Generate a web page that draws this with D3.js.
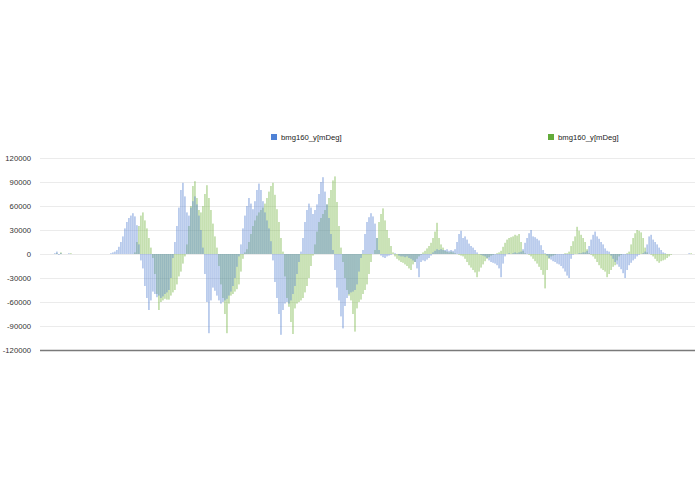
<!DOCTYPE html>
<html>
<head>
<meta charset="utf-8">
<title>bmg160_y</title>
<script src="https://cdn.jsdelivr.net/npm/d3@7"></script>
<style>
  body { margin: 0; background: #fff; }
  svg { display: block; }
  .tick-label { font: 7.7px "Liberation Sans", Arial, sans-serif; fill: #333; }
  .legend-label { font: 7.7px "Liberation Sans", Arial, sans-serif; fill: #222; }
</style>
</head>
<body>
<script>
// series values, thousands of mDeg, one per bar (left to right)
var blueSeries = [
  0,0,0,0,0,0,0,1,3,-1,
  1,0,0,0,1,0,0,0,0,0,
  0,0,0,0,0,0,0,0,0,0,
  0,0,0,0,0,1,2,3,5,9,
  15,22,32,40,45,48,51,47,36,12,
  -8,-18,-40,-55,-70,-58,-47,-50,-54,-52,
  -55,-53,-50,-48,-45,-30,-5,15,35,58,
  80,89,72,52,48,58,66,72,62,48,
  30,8,-25,-60,-99,-58,-42,-46,-52,-58,
  -62,-60,-58,-56,-52,-47,-40,-30,-16,-3,
  12,32,48,60,70,63,56,66,80,88,
  80,66,52,42,32,16,-8,-35,-55,-75,
  -101,-70,-62,-60,-62,-58,-50,-40,-25,-10,
  3,20,40,55,63,58,50,55,62,75,
  90,96,78,62,45,25,5,-20,-42,-58,
  -78,-93,-65,-55,-50,-48,-47,-45,-38,-22,
  -5,5,25,40,46,51,47,38,20,5,
  -2,-4,-5,-3,-2,-1,0,1,0,-2,
  -3,-3,-4,-3,-5,-6,-8,-10,-18,-29,
  -10,-8,-9,-7,-5,-2,2,4,6,5,
  6,5,5,6,4,5,4,6,15,25,
  29,20,22,18,13,10,8,5,2,0,
  -1,-2,-3,-5,-8,-10,-11,-12,-14,-18,
  -29,-12,-3,0,1,0,1,2,1,2,
  3,6,14,20,26,30,22,21,19,17,
  11,5,1,-2,-5,-7,-9,-10,-12,-13,
  -15,-18,-22,-27,-30,-6,-1,0,0,1,
  1,2,2,4,10,18,24,28,22,19,
  15,12,7,4,3,-2,-6,-10,-13,-16,
  -19,-24,-30,-20,-14,-11,-8,-6,-3,-1,
  0,1,3,12,22,24,18,15,12,8,
  5,2,1,0,0,0,0,0,0,0,
  0,0,0,0,1,0,0,0
];
var greenSeries = [
  0,0,0,0,0,0,0,0,1,0,
  2,0,0,0,0,1,0,0,0,0,
  0,0,0,0,0,0,0,0,0,0,
  0,0,0,0,0,0,0,0,0,0,
  0,0,0,0,0,0,0,2,15,35,
  48,52,42,32,20,8,-5,-25,-50,-70,
  -60,-58,-56,-57,-57,-52,-48,-45,-38,-28,
  -22,-12,-3,12,35,60,85,91,70,55,
  52,60,75,86,70,55,38,22,8,-15,
  -38,-55,-75,-99,-62,-52,-50,-47,-44,-38,
  -22,-6,2,6,15,25,35,42,48,52,
  55,58,63,70,78,85,89,74,56,40,
  20,3,-28,-55,-66,-85,-100,-68,-62,-60,
  -58,-55,-48,-40,-30,-15,-2,12,28,40,
  45,50,55,62,70,80,92,97,65,35,
  8,-10,-30,-45,-52,-58,-75,-97,-68,-60,
  -57,-50,-45,-38,-25,-10,0,5,20,40,
  50,57,42,30,20,10,2,-3,-6,-8,
  -10,-11,-13,-15,-18,-20,-13,-10,-6,-3,
  -1,2,4,7,10,14,20,28,39,20,
  12,8,4,3,2,3,2,1,0,-1,
  -2,-3,-6,-10,-14,-17,-20,-23,-29,-22,
  -17,-13,-9,-6,-4,-2,-1,0,1,2,
  4,9,14,18,20,21,22,24,23,25,
  15,4,1,0,-1,-3,-6,-9,-12,-16,
  -20,-26,-43,-20,-6,-3,-2,-1,0,0,
  0,0,1,1,3,10,16,22,34,29,
  24,20,15,6,1,-1,-3,-6,-10,-14,
  -18,-20,-22,-29,-25,-20,-16,-14,-8,-3,
  -1,0,0,1,3,12,20,26,30,29,
  27,20,8,2,0,-1,-3,-6,-9,-11,
  -9,-8,-7,-5,-3,-1,0,0,0,0,
  0,0,0,0,0,1,0,0
];
var yTicks = [120000, 90000, 60000, 30000, 0, -30000, -60000, -90000, -120000];
var seriesNames = ["bmg160_y[mDeg]", "bmg160_y[mDeg]"];
var seriesColors = ["#4f82d6", "#62ab3a"];
var barColors = ["#5a86d2", "#78b548"];

var width = 695, height = 494;
var svg = d3.select("body").append("svg")
    .attr("width", width)
    .attr("height", height);

var y = d3.scaleLinear().domain([-120000, 120000]).range([350, 158]);
var x = d3.scaleBand()
    .domain(d3.range(blueSeries.length))
    .range([40, 696])
    .paddingInner(0.14);

// grid
svg.append("g").selectAll("line")
  .data(yTicks.filter(function(d) { return d !== -120000; }))
  .enter().append("line")
    .attr("x1", 40).attr("x2", 695)
    .attr("y1", function(d) { return y(d) + 0.5; })
    .attr("y2", function(d) { return y(d) + 0.5; })
    .attr("stroke", "#ebebeb")
    .attr("stroke-width", 1);

// tick labels
svg.append("g").selectAll("text")
  .data(yTicks)
  .enter().append("text")
    .attr("class", "tick-label")
    .attr("x", 31)
    .attr("y", function(d) { return y(d); })
    .attr("dy", "0.35em")
    .attr("text-anchor", "end")
    .text(function(d) { return d; });

// bars, both series on the same slots, see-through (green under, blue over)
function drawSeries(vals, color) {
  svg.append("g").selectAll("rect")
    .data(vals.map(function(v) { return v * 1000; }))
    .enter().append("rect")
      .attr("x", function(d, i) { return x(i); })
      .attr("width", x.bandwidth())
      .attr("y", function(d) { return y(Math.max(0, d)); })
      .attr("height", function(d) { return Math.abs(y(d) - y(0)); })
      .attr("fill", color)
      .attr("fill-opacity", 0.45);
}
drawSeries(greenSeries, barColors[1]);
drawSeries(blueSeries, barColors[0]);

// baseline at the bottom
svg.append("line")
  .attr("x1", 40).attr("x2", 695)
  .attr("y1", y(-120000) + 0.5).attr("y2", y(-120000) + 0.5)
  .attr("stroke", "#7a7a7a")
  .attr("stroke-width", 1.6);

// legend
var legendX = [271, 548];
var legend = svg.append("g").selectAll("g")
  .data(seriesNames)
  .enter().append("g")
    .attr("transform", function(d, i) { return "translate(" + legendX[i] + ",134)"; });
legend.append("rect")
  .attr("width", 6).attr("height", 6)
  .attr("fill", function(d, i) { return seriesColors[i]; });
legend.append("text")
  .attr("class", "legend-label")
  .attr("x", 10).attr("y", 3)
  .attr("dy", "0.35em")
  .text(function(d) { return d; });
</script>
</body>
</html>
